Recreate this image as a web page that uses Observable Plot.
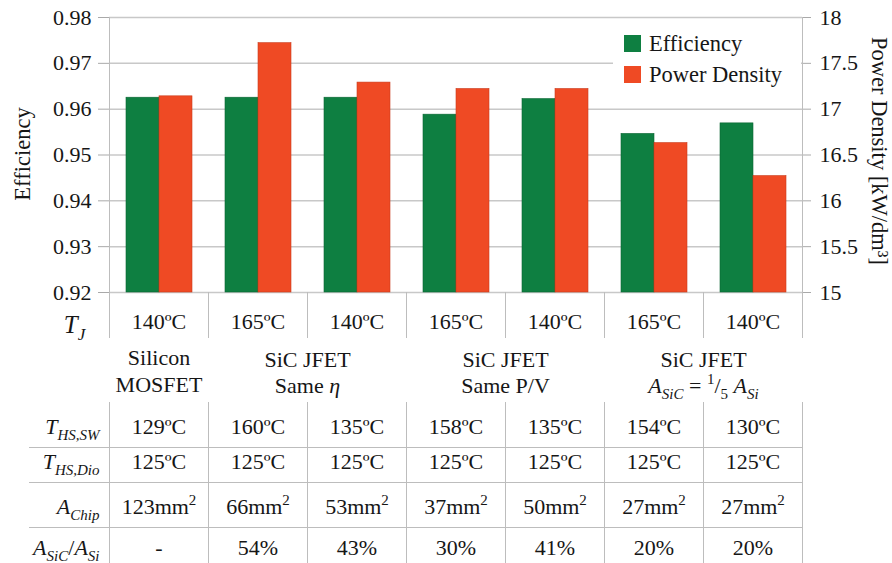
<!DOCTYPE html>
<html>
<head>
<meta charset="utf-8">
<script src="https://cdn.jsdelivr.net/npm/d3@7"></script>
<script src="https://cdn.jsdelivr.net/npm/@observablehq/plot@0.6"></script>
<style>
  html, body { margin: 0; padding: 0; background: #fff; }
  #figure { position: relative; width: 892px; height: 563px; font-family: "Liberation Serif", "DejaVu Serif", serif; color: #161616; }
  #figure svg, #figure svg text { font-family: "Liberation Serif", "DejaVu Serif", serif; white-space: pre; }
  .legend { position: absolute; left: 613px; top: 22px; width: 188px; height: 72px; background: #fff; }
  .legend .row { position: absolute; left: 11px; display: flex; align-items: center; height: 17px; }
  .legend .swatch { width: 17px; height: 17px; margin-right: 8px; }
  .legend .label { font-size: 22.5px; line-height: 17px; }
</style>
</head>
<body>
<div id="figure"></div>
<script>
// Converter configurations (one bar pair each) and their junction temperatures
const configs = ["Si MOSFET 140", "JFET same-eta 165", "JFET same-eta 140", "JFET same-PV 165", "JFET same-PV 140", "JFET fifth-area 165", "JFET fifth-area 140"];
const junctionTemps = [140, 165, 140, 165, 140, 165, 140];

// Bar values
const efficiency = [0.9625, 0.9625, 0.9625, 0.9588, 0.9622, 0.9546, 0.9569];
const powerDensity = [17.14, 17.72, 17.29, 17.22, 17.22, 16.63, 16.27]; // kW/dm³

// Axis ticks
const efficiencyTicks = [0.92, 0.93, 0.94, 0.95, 0.96, 0.97, 0.98];
const densityTicks = [15, 15.5, 16, 16.5, 17, 17.5, 18];

// Series
const series = ["Efficiency", "Power Density"];
const seriesColors = ["#0e7f41", "#ef4a24"];
const seriesEdges = ["#0a6533", "#c93a1b"];

// Device groups under the temperature row (markup: *italic*, _{sub}, ^{sup})
const groupTitles = ["Silicon", "SiC JFET", "SiC JFET", "SiC JFET"];
const groupSubtitles = ["MOSFET", "Same *η*", "Same P/V", "*A*_{*SiC*} = ^{1}/_{5} *A*_{*Si*}"];
const groupFirst = [0, 1, 3, 5];
const groupSpan = [1, 2, 2, 2];

// Table under the chart
const rowLabels = ["*T*_{*HS,SW*}", "*T*_{*HS,Dio*}", "*A*_{*Chip*}", "*A*_{*SiC*}/*A*_{*Si*}"];
const heatsinkSwitchTemp = [129, 160, 135, 158, 135, 154, 130];
const heatsinkDiodeTemp = [125, 125, 125, 125, 125, 125, 125];
const chipArea = [123, 66, 53, 37, 50, 27, 27];
const areaRatio = [null, 54, 43, 30, 41, 20, 20];

// ---- layout ----
const width = 892, height = 563;
const margin = {top: 17, right: 89, bottom: 271, left: 107};
const frameBottom = height - margin.bottom;         // pixel row of the chart baseline
const below = (py) => py - frameBottom;             // offset from the chart baseline
const lineColor = "#bdbdbd";
const textColor = "#161616";
const serif = "'Liberation Serif', 'DejaVu Serif', serif";

const yDomain = d3.extent(efficiencyTicks);
const pdDomain = d3.extent(densityTicks);
const k = (yDomain[1] - yDomain[0]) / (pdDomain[1] - pdDomain[0]);
const pdToY = (v) => yDomain[0] + (v - pdDomain[0]) * k;
const yToPd = (v) => pdDomain[0] + (v - yDomain[0]) / k;

const deg = (t) => `${t}ºC`;
const groups = groupTitles.map((title, i) => ({
  title, subtitle: groupSubtitles[i], config: configs[groupFirst[i]], span: groupSpan[i]
}));
const tableRows = [
  {label: rowLabels[0], cells: heatsinkSwitchTemp.map(deg), baseline: 433},
  {label: rowLabels[1], cells: heatsinkDiodeTemp.map(deg), baseline: 468},
  {label: rowLabels[2], cells: chipArea.map((a) => `${a}mm^{2}`), baseline: 513},
  {label: rowLabels[3], cells: areaRatio.map((r) => r == null ? "-" : `${r}%`), baseline: 554}
];
const tableTop = 402, tableRules = [447, 482, 527], tempRowBottom = 337;

const txt = {fontFamily: serif, fill: textColor};

const cellText = (rows) => rows.flatMap((row) => [
  Plot.text(row.cells, {...txt, fx: (d, i) => configs[i], text: (d) => d, frameAnchor: "bottom", textAnchor: "middle", lineAnchor: "bottom", dy: below(row.baseline), fontSize: 22}),
  Plot.text([row.label], {...txt, fx: () => configs[0], text: (d) => d, frameAnchor: "bottom-left", textAnchor: "end", lineAnchor: "bottom", dx: -10, dy: below(row.baseline), fontSize: 22})
]);

const chart = Plot.plot({
  width, height,
  marginTop: margin.top, marginRight: margin.right, marginBottom: margin.bottom, marginLeft: margin.left,
  style: {fontFamily: serif, fontSize: "22px", overflow: "visible", background: "transparent", color: textColor},
  fx: {domain: configs, padding: 0, axis: null, label: null},
  x: {domain: series, paddingInner: 0, paddingOuter: 0.493, axis: null, label: null},
  y: {domain: yDomain, label: null},
  marks: [
    Plot.gridY(efficiencyTicks, {stroke: "#c8c8c8", strokeOpacity: 1, strokeWidth: 1.5}),

    Plot.barY(efficiency, {fx: (d, i) => configs[i], x: () => series[0], y1: () => yDomain[0], y2: (d) => d,
      fill: seriesColors[0], stroke: seriesEdges[0], strokeWidth: 0.6}),
    Plot.barY(powerDensity, {fx: (d, i) => configs[i], x: () => series[1], y1: () => yDomain[0], y2: (d) => pdToY(d),
      fill: seriesColors[1], stroke: seriesEdges[1], strokeWidth: 0.6}),

    // axis lines, extended through the temperature row
    Plot.frame({anchor: "left", facetAnchor: "left", insetBottom: -below(tempRowBottom), stroke: lineColor}),
    Plot.frame({anchor: "right", facetAnchor: "right", insetBottom: -below(tempRowBottom), stroke: lineColor}),
    // column separators of the temperature row
    Plot.frame({anchor: "left", insetTop: frameBottom - margin.top, insetBottom: -below(tempRowBottom), stroke: lineColor}),
    // table grid
    Plot.frame({anchor: "left", insetTop: tableTop - margin.top, insetBottom: -below(height + 5), stroke: lineColor}),
    Plot.frame({anchor: "right", facetAnchor: "right", insetTop: tableTop - margin.top, insetBottom: -below(height + 5), stroke: lineColor}),
    ...tableRules.flatMap((py) => [
      Plot.frame({anchor: "bottom", insetBottom: -below(py), stroke: lineColor}),
      Plot.frame({anchor: "bottom", facetAnchor: "left", insetLeft: -80, insetBottom: -below(py), stroke: lineColor})
    ]),

    Plot.axisY(efficiencyTicks, {anchor: "left", tickSize: 11, tickPadding: 7, tickFormat: d3.format(".2f"),
      stroke: "#a9a9a9", fill: textColor, fontSize: 22, fontFamily: serif, label: null}),
    Plot.axisY(densityTicks.map(pdToY), {anchor: "right", tickSize: 8, tickPadding: 9,
      tickFormat: (d) => String(+yToPd(d).toFixed(1)), stroke: "#a9a9a9", fill: textColor, fontSize: 22, fontFamily: serif, label: null}),

    Plot.text(["Efficiency"], {...txt, fx: () => configs[0], text: (d) => d, frameAnchor: "left", textAnchor: "middle", rotate: -90, dx: -87, dy: -1, fontSize: 22.5}),
    Plot.text(["Power Density [kW/dm³]"], {...txt, fx: () => configs[configs.length - 1], text: (d) => d, frameAnchor: "right", textAnchor: "middle", rotate: 90, dx: 77, dy: -4, fontSize: 22.5}),

    // junction temperature row
    Plot.text(junctionTemps, {...txt, fx: (d, i) => configs[i], text: deg, frameAnchor: "bottom", textAnchor: "middle", lineAnchor: "bottom", dy: below(328), fontSize: 22}),
    Plot.text(["*T*_{*J*}"], {...txt, fx: () => configs[0], text: (d) => d, frameAnchor: "bottom-left", textAnchor: "middle", lineAnchor: "bottom", dx: -35, dy: below(332), fontSize: 25}),

    // device groups
    Plot.text(groups, {...txt, filter: (g) => g.span === 1, fx: "config", text: "title", frameAnchor: "bottom", textAnchor: "middle", lineAnchor: "bottom", dy: below(364), fontSize: 22}),
    Plot.text(groups, {...txt, filter: (g) => g.span === 1, fx: "config", text: "subtitle", frameAnchor: "bottom", textAnchor: "middle", lineAnchor: "bottom", dy: below(391), fontSize: 22}),
    Plot.text(groups, {...txt, filter: (g) => g.span > 1, fx: "config", text: "title", frameAnchor: "bottom-right", textAnchor: "middle", lineAnchor: "bottom", dy: below(366), fontSize: 22}),
    Plot.text(groups, {...txt, filter: (g) => g.span > 1, fx: "config", text: "subtitle", frameAnchor: "bottom-right", textAnchor: "middle", lineAnchor: "bottom", dy: below(392), fontSize: 22}),

    ...cellText(tableRows)
  ]
});

const figure = document.getElementById("figure");
figure.appendChild(chart);

// Turn the small markup (*italic*, _{sub}, ^{sup}) into styled tspans
function parseRich(s) {
  const runs = [];
  let italic = false, shift = 0, buf = "";
  const flush = () => { if (buf) runs.push({text: buf, italic, shift}); buf = ""; };
  for (let i = 0; i < s.length; i++) {
    const c = s[i];
    if (c === "*") { flush(); italic = !italic; }
    else if ((c === "_" || c === "^") && s[i + 1] === "{") { flush(); shift = c === "_" ? 1 : -1; i++; }
    else if (c === "}" && shift) { flush(); shift = 0; }
    else buf += c;
  }
  flush();
  return runs;
}
d3.select(chart).selectAll("text").each(function () {
  const src = this.textContent;
  if (!/\*|_\{|\^\{/.test(src)) return;
  const fs = parseFloat(getComputedStyle(this).fontSize);
  const runs = parseRich(src);
  this.textContent = "";
  let offset = 0;
  for (const run of runs) {
    const target = run.shift === 1 ? fs * 0.3 : run.shift === -1 ? -fs * 0.4 : 0;
    const t = document.createElementNS("http://www.w3.org/2000/svg", "tspan");
    t.textContent = run.text;
    if (run.italic) t.setAttribute("font-style", "italic");
    if (run.shift) t.setAttribute("font-size", (fs * 0.68).toFixed(1));
    if (target !== offset) t.setAttribute("dy", (target - offset).toFixed(2));
    offset = target;
    this.appendChild(t);
  }
});

// Legend
const legend = document.createElement("div");
legend.className = "legend";
series.forEach((name, i) => {
  const row = document.createElement("div");
  row.className = "row";
  row.style.top = `${13 + i * 31}px`;
  row.innerHTML = `<span class="swatch" style="background:${seriesColors[i]}"></span><span class="label">${name}</span>`;
  legend.appendChild(row);
});
figure.appendChild(legend);
</script>
</body>
</html>
